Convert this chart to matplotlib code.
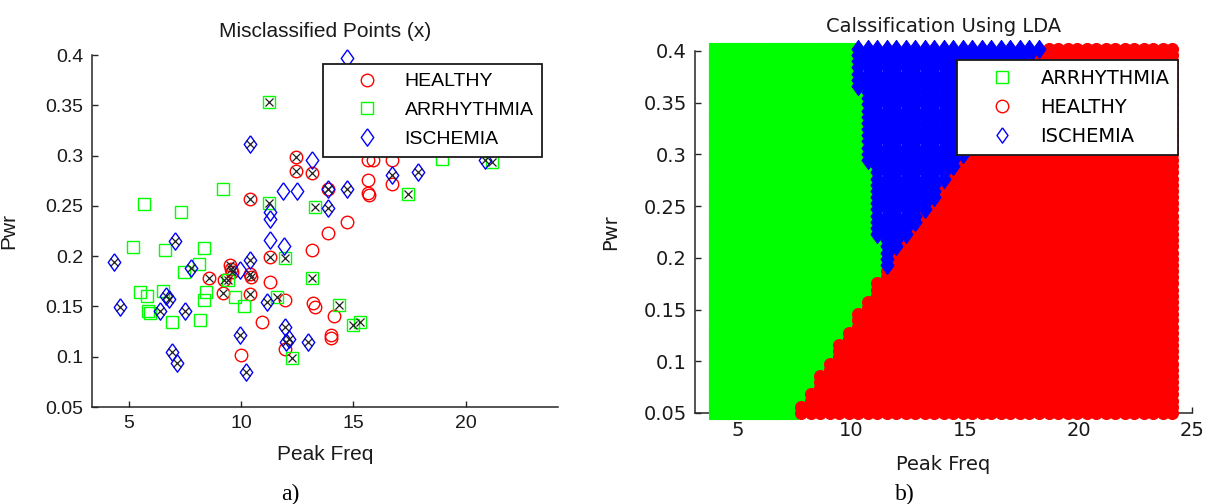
import numpy as np
import matplotlib
matplotlib.use("Agg")
import matplotlib.pyplot as plt
from matplotlib.lines import Line2D

# ---- panel a) : feature points (Peak Freq, Pwr); miss = 1 -> misclassified (x)
healthy_x = [12.44, 12.44, 13.17, 13.88, 10.39, 14.70, 13.88, 13.17, 15.66, 15.88,
             16.70, 15.66, 15.66, 15.70, 16.70, 11.31, 11.31, 11.95, 13.20, 13.28,
             14.13, 13.98, 13.98, 10.95, 9.99, 11.95, 8.58, 9.20, 10.39, 9.50,
             9.55, 9.60, 10.39, 10.45, 9.25]
healthy_y = [0.299, 0.285, 0.283, 0.267, 0.257, 0.234, 0.223, 0.206, 0.296, 0.296,
             0.296, 0.276, 0.263, 0.261, 0.272, 0.199, 0.174, 0.156, 0.153, 0.149,
             0.140, 0.122, 0.119, 0.135, 0.102, 0.108, 0.178, 0.163, 0.162, 0.191,
             0.187, 0.184, 0.182, 0.179, 0.176]
healthy_miss = [1, 1, 1, 1, 1, 0, 0, 0, 0, 0,
                0, 0, 0, 0, 0, 1, 0, 0, 0, 0,
                0, 0, 0, 0, 0, 0, 1, 1, 1, 1,
                1, 1, 1, 1, 1]

arrhy_x = [11.25, 9.20, 5.68, 7.32, 5.19, 6.60, 8.36, 8.15, 7.45, 5.49,
           5.81, 6.53, 5.86, 5.96, 6.94, 8.16, 8.46, 8.34, 9.72, 10.12,
           9.42, 11.25, 13.28, 11.96, 13.17, 11.62, 14.37, 14.99, 15.29, 12.25,
           17.44, 18.93, 21.16]
arrhy_y = [0.353, 0.267, 0.252, 0.244, 0.209, 0.206, 0.208, 0.192, 0.184, 0.164,
           0.160, 0.165, 0.145, 0.143, 0.135, 0.137, 0.164, 0.156, 0.159, 0.150,
           0.176, 0.253, 0.249, 0.198, 0.178, 0.159, 0.151, 0.132, 0.135, 0.099,
           0.262, 0.297, 0.294]
arrhy_miss = [1, 0, 0, 0, 0, 0, 0, 0, 0, 0,
              0, 0, 0, 0, 0, 0, 0, 0, 0, 0,
              1, 1, 1, 1, 1, 1, 1, 1, 1, 1,
              1, 0, 1]

isch_x = [14.70, 10.39, 13.17, 11.87, 12.47, 13.88, 14.70, 13.88, 11.31, 11.31,
          11.31, 11.90, 16.70, 17.89, 20.86, 4.33, 4.63, 7.08, 7.79, 6.65,
          6.78, 6.38, 7.49, 6.94, 7.15, 9.97, 10.20, 10.39, 9.97, 11.16,
          11.95, 12.02, 12.12, 12.99]
isch_y = [0.397, 0.312, 0.296, 0.265, 0.265, 0.267, 0.267, 0.248, 0.244, 0.237,
          0.216, 0.210, 0.281, 0.284, 0.296, 0.194, 0.149, 0.215, 0.188, 0.160,
          0.157, 0.145, 0.145, 0.105, 0.094, 0.122, 0.085, 0.196, 0.186, 0.154,
          0.130, 0.115, 0.118, 0.115]
isch_miss = [0, 1, 0, 0, 0, 1, 1, 1, 0, 0,
             0, 0, 1, 1, 1, 1, 1, 1, 1, 1,
             1, 1, 1, 1, 1, 1, 1, 1, 0, 1,
             1, 1, 1, 1]

# ---- panel b) : LDA decision regions, boundary points
tri_pt = (11.35, 0.186)    # where the three regions meet
gr_end = (7.60, 0.050)     # ARRHYTHMIA / HEALTHY boundary, lower end
gb_end = (10.05, 0.400)    # ARRHYTHMIA / ISCHEMIA boundary, upper end
br_end = (18.20, 0.400)    # ISCHEMIA / HEALTHY boundary, upper end
grid_x_lim = (4.0, 24.13)
grid_y_lim = (0.05, 0.402)
grid_n = (49, 60)

RED, GREEN, BLUE = "#ff0000", "#00ff00", "#0000ff"
DIAMOND = [(0, 1), (0.72, 0), (0, -1), (-0.72, 0), (0, 1)]

W, H = 1208, 504
fig = plt.figure(figsize=(W / 100, H / 100), dpi=100)


def style_axes(ax, family):
    for s in ["top", "right"]:
        ax.spines[s].set_visible(False)
    for s in ["left", "bottom"]:
        ax.spines[s].set_linewidth(1.1)
        ax.spines[s].set_color("#262626")
    ax.tick_params(direction="in", length=4, width=1.0, color="#262626",
                   labelsize=14, pad=6)
    for lab in ax.get_xticklabels() + ax.get_yticklabels():
        lab.set_family(family)
        lab.set_color("#1a1a1a")


# ================= a) =================
ax1 = fig.add_axes([92 / W, 97 / H, 466 / W, 352 / H])
groups = [(healthy_x, healthy_y, healthy_miss, RED, "o", 9.0, "HEALTHY"),
          (arrhy_x, arrhy_y, arrhy_miss, GREEN, "s", 8.5, "ARRHYTHMIA"),
          (isch_x, isch_y, isch_miss, BLUE, DIAMOND, 12.5, "ISCHEMIA")]
handles = []
for gx, gy, gm, col, mk, ms, name in groups:
    ax1.plot(gx, gy, ls="none", marker=mk, ms=ms, mfc="none", mec=col, mew=1.0,
             clip_on=False, zorder=3)
    handles.append(Line2D([], [], ls="none", marker=mk, ms=ms, mfc="none",
                          mec=col, mew=1.0, label=name))
for gx, gy, gm, col, mk, ms, name in groups:
    mx = [x for x, m in zip(gx, gm) if m]
    my = [y for y, m in zip(gy, gm) if m]
    ax1.plot(mx, my, ls="none", marker="x", ms=5.5, mec="#202020", mew=0.9,
             clip_on=False, zorder=4)

ax1.set_xlim(3.37, 24.1)
ax1.set_ylim(0.05, 0.4)
ax1.set_xticks([5, 10, 15, 20])
ax1.set_yticks([0.05, 0.1, 0.15, 0.2, 0.25, 0.3, 0.35, 0.4])
ax1.set_yticklabels(["0.05", "0.1", "0.15", "0.2", "0.25", "0.3", "0.35", "0.4"])
style_axes(ax1, "Liberation Sans")
ax1.set_title("Misclassified Points (x)", family="Liberation Sans", fontsize=15,
              pad=13, color="#1a1a1a")
ax1.set_xlabel("Peak Freq", family="Liberation Sans", fontsize=15, color="#1a1a1a")
ax1.set_ylabel("Pwr", family="Liberation Sans", fontsize=15, color="#1a1a1a")
ax1.xaxis.set_label_coords(0.5, -0.107)
ax1.yaxis.set_label_coords(-0.159, 0.5)
leg1 = ax1.legend(handles=handles, loc="upper left",
                  bbox_to_anchor=(323 / W, 1 - 64 / H), bbox_transform=fig.transFigure,
                  borderaxespad=0, borderpad=0.45, handlelength=3.6, handletextpad=0.15,
                  labelspacing=0.58, fancybox=False, framealpha=1,
                  prop={"family": "Liberation Sans", "size": 14})
leg1.get_frame().set_edgecolor("#1a1a1a")
leg1.get_frame().set_linewidth(1.3)
leg1.set_zorder(10)

# ================= b) =================
ax2 = fig.add_axes([695 / W, 91 / H, 497 / W, 362 / H])
gx, gy = np.meshgrid(np.linspace(*grid_x_lim, grid_n[0]),
                     np.linspace(*grid_y_lim, grid_n[1]))
gx, gy = gx.ravel(), gy.ravel()
x_gr = gr_end[0] + (gy - gr_end[1]) * (tri_pt[0] - gr_end[0]) / (tri_pt[1] - gr_end[1])
x_gb = tri_pt[0] + (gy - tri_pt[1]) * (gb_end[0] - tri_pt[0]) / (gb_end[1] - tri_pt[1])
y_br = tri_pt[1] + (gx - tri_pt[0]) * (br_end[1] - tri_pt[1]) / (br_end[0] - tri_pt[0])
is_green = np.where(gy <= tri_pt[1], gx < x_gr, gx < x_gb)
is_blue = ~is_green & (gy > np.maximum(y_br, tri_pt[1]))
is_red = ~is_green & ~is_blue

region_groups = [(is_green, GREEN, "s", 8.6, 8.8, "ARRHYTHMIA"),
                 (is_red, RED, "o", 8.6, 9.0, "HEALTHY"),
                 (is_blue, BLUE, DIAMOND, 13.0, 11.0, "ISCHEMIA")]
handles2 = []
for mask, col, mk, ms, lms, name in region_groups:
    ax2.plot(gx[mask], gy[mask], ls="none", marker=mk, ms=ms, mfc=col, mec=col,
             mew=0.8, clip_on=False, zorder=3)
    handles2.append(Line2D([], [], ls="none", marker=mk, ms=lms, mfc="none",
                           mec=col, mew=1.0, label=name))

ax2.set_xlim(3.1, 25)
ax2.set_ylim(0.05, 0.4)
ax2.set_xticks([5, 10, 15, 20, 25])
ax2.set_yticks([0.05, 0.1, 0.15, 0.2, 0.25, 0.3, 0.35, 0.4])
ax2.set_yticklabels(["0.05", "0.1", "0.15", "0.2", "0.25", "0.3", "0.35", "0.4"])
style_axes(ax2, "DejaVu Sans")
ax2.set_title("Calssification Using LDA", family="DejaVu Sans", fontsize=14,
              pad=14, color="#1a1a1a")
ax2.set_xlabel("Peak Freq", family="DejaVu Sans", fontsize=14, color="#1a1a1a")
ax2.set_ylabel("Pwr", family="DejaVu Sans", fontsize=14, color="#1a1a1a")
ax2.xaxis.set_label_coords(0.5, -0.115)
ax2.yaxis.set_label_coords(-0.151, 0.5)
leg2 = ax2.legend(handles=handles2, loc="upper left",
                  bbox_to_anchor=(957 / W, 1 - 60 / H), bbox_transform=fig.transFigure,
                  borderaxespad=0, borderpad=0.45, handlelength=3.7, handletextpad=0.15,
                  labelspacing=0.52, fancybox=False, framealpha=1,
                  prop={"family": "DejaVu Sans", "size": 14})
leg2.get_frame().set_edgecolor("#1a1a1a")
leg2.get_frame().set_linewidth(1.3)
leg2.set_zorder(10)

fig.text(290 / W, 1 - 494 / H, "a)", family="Liberation Serif", fontsize=17,
         ha="center", va="center")
fig.text(905 / W, 1 - 494 / H, "b)", family="Liberation Serif", fontsize=17,
         ha="center", va="center")

fig.savefig("out.png", dpi=100)
